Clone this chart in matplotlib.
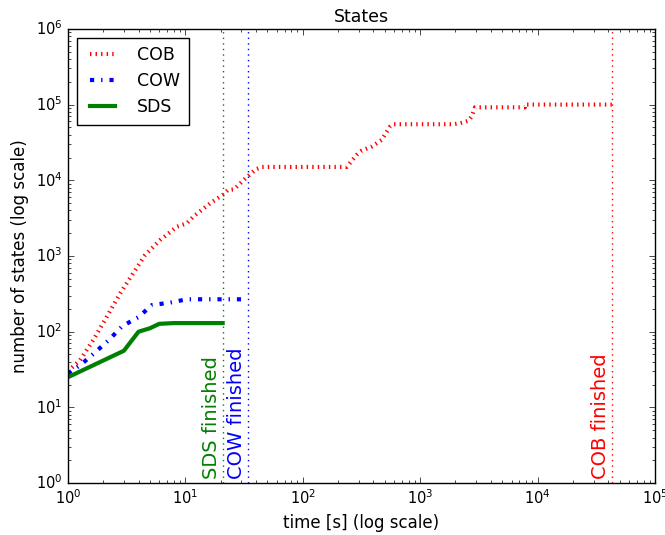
import matplotlib
matplotlib.use('Agg')
import matplotlib.pyplot as plt

# times [s] and number of states
cob_t = [1, 1.27, 1.65, 2.15, 2.79, 3.6, 4.55, 6.1, 8.5, 10.3, 11.7, 16.3, 20.8, 23, 26, 33.4, 40, 45,
         237, 288, 318, 387, 470, 553, 590, 1910, 2180, 2570, 2750, 2930, 7800, 7850, 43300]
cob_n = [30, 42, 78, 158, 321, 590, 1030, 1620, 2440, 2700, 3300, 4970, 6400, 7400, 7600, 11000, 14000, 15000,
         15000, 21600, 24600, 27900, 34100, 51000, 55000, 55000, 56700, 61000, 69600, 92000, 92000, 100000, 100000]

cow_t = [1, 1.3, 1.7, 2.26, 2.9, 4, 5.2, 7.3, 10.3, 34]
cow_n = [28, 37, 53, 79, 118, 156, 225, 241, 268, 268]

sds_t = [1, 3, 4, 5, 6, 8, 20.8]
sds_n = [25, 56, 100, 111, 127, 130, 130]

finished = {'SDS': (20.8, 'g'), 'COW': (34, 'b'), 'COB': (43300, 'r')}

plt.style.use('classic')
plt.rcParams['figure.facecolor'] = 'white'
plt.rcParams['savefig.facecolor'] = 'white'
plt.rcParams['mathtext.fontset'] = 'dejavusans'
plt.rcParams['font.family'] = 'DejaVu Sans'

fig = plt.figure(figsize=(6.65, 5.35), dpi=100)
ax = fig.add_axes([0.102, 0.097, 0.883, 0.849])

ax.plot(cob_t, cob_n, 'r:', lw=3, label='COB')
ax.plot(cow_t, cow_n, 'b-.', lw=3, label='COW')
ax.plot(sds_t, sds_n, 'g-', lw=3, label='SDS')

for name, (t, c) in finished.items():
    ax.axvline(t, color=c, ls=':', lw=1)
    ax.text(t * 0.96, 1.15, name + ' finished', rotation=90, color=c,
            ha='right', va='bottom', fontsize=14)

ax.set_xscale('log')
ax.set_yscale('log')
ax.set_xlim(1, 1e5)
ax.set_ylim(1, 1e6)
ax.tick_params(labelsize=10.5)
ax.set_title('States', fontsize=12.5)
ax.set_xlabel('time [s] (log scale)', fontsize=12)
ax.set_ylabel('number of states (log scale)', fontsize=12)
ax.legend(loc='upper left', fontsize=12.5, handlelength=2.0, borderpad=0.5,
          labelspacing=0.45, handletextpad=1.0)

plt.savefig('out.png', dpi=100)
